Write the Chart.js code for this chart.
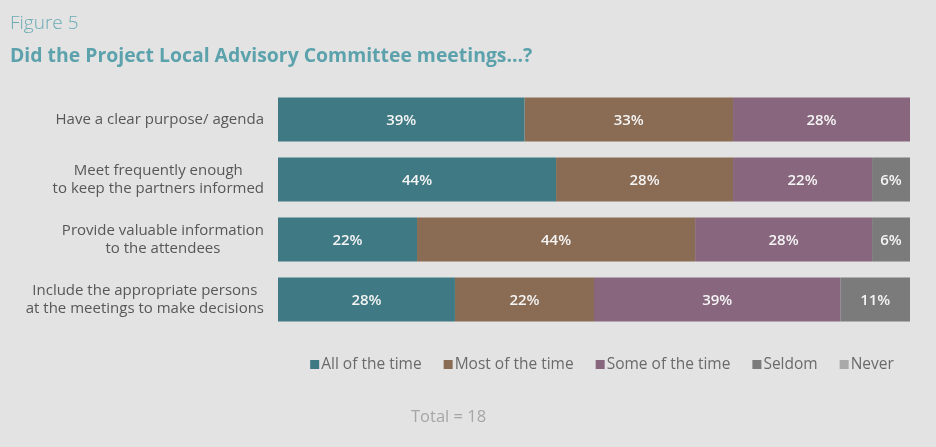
<!DOCTYPE html>
<html>
<head>
<meta charset="utf-8">
<script src="https://cdn.jsdelivr.net/npm/chart.js@4.4.1/dist/chart.umd.min.js"></script>
<style>
  html, body { margin: 0; padding: 0; background: #e4e3e3; }
  #wrap { width: 936px; height: 447px; position: relative; }
</style>
</head>
<body>
<div id="wrap"><canvas id="c" width="936" height="447"></canvas></div>
<script>
// Survey questions (multi-line category labels)
const questions = [
  ["Have a clear purpose/ agenda"],
  ["Meet frequently enough", "to keep the partners informed"],
  ["Provide valuable information", "to the attendees"],
  ["Include the appropriate persons", "at the meetings to make decisions"]
];

// Response categories
const responses = ["All of the time", "Most of the time", "Some of the time", "Seldom", "Never"];

// Share of respondents (%) for each response, per question
const allOfTheTime  = [39, 44, 22, 28];
const mostOfTheTime = [33, 28, 44, 22];
const someOfTheTime = [28, 22, 28, 39];
const seldom        = [0, 6, 6, 11];
const never         = [0, 0, 0, 0];

const titleText = "Figure 5";
const subtitleText = "Did the Project Local Advisory Committee meetings\u2026?";
const totalText = "Total = 18";

const colors = ["#3f7a84", "#8a6b53", "#88667e", "#7b7b7b", "#a9a9a9"];
const seriesValues = [allOfTheTime, mostOfTheTime, someOfTheTime, seldom, never];

const FONT = "'Open Sans', 'Noto Sans', sans-serif";

// Titles, category labels, in-bar percentage labels, legend and footnote
const decorations = {
  id: "decorations",
  afterDatasetsDraw(chart) {
    const ctx = chart.ctx;
    ctx.save();
    // in-bar value labels
    ctx.fillStyle = "#f4f4f4";
    ctx.font = "600 15px " + FONT;
    ctx.textAlign = "center";
    ctx.textBaseline = "middle";
    chart.data.datasets.forEach((ds, di) => {
      const meta = chart.getDatasetMeta(di);
      meta.data.forEach((bar, i) => {
        const v = ds.data[i];
        if (!v) return;
        const x = (bar.x + bar.base) / 2;
        ctx.fillText(v + "%", x, bar.y + 1);
      });
    });

    // category labels: each block right-aligned to the axis, its lines centred
    const yScale = chart.scales.y;
    const right = chart.chartArea.left - 14;
    const lh = 18;
    ctx.font = "15px " + FONT;
    ctx.fillStyle = "#575757";
    ctx.textAlign = "center";
    chart.data.labels.forEach((lines, i) => {
      const cy = yScale.getPixelForTick(i);
      const w = Math.max(...lines.map(l => ctx.measureText(l).width));
      const cx = right - w / 2;
      const y0 = cy - (lines.length - 1) * lh / 2;
      lines.forEach((l, k) => ctx.fillText(l, cx, y0 + k * lh));
    });
    ctx.restore();
  },
  afterDraw(chart) {
    const ctx = chart.ctx;
    ctx.save();
    ctx.textBaseline = "alphabetic";
    ctx.textAlign = "left";
    ctx.fillStyle = "#6aabb4";
    ctx.font = "300 19px " + FONT;
    ctx.fillText(titleText, 10, 29);
    ctx.fillStyle = "#5ba2ac";
    ctx.font = "bold 19.4px " + FONT;
    ctx.fillText(subtitleText, 10, 62);

    // legend
    ctx.font = "15.5px " + FONT;
    const gap = 22, box = 9, boxGap = 2;
    const widths = responses.map(r => ctx.measureText(r).width);
    const total = widths.reduce((a, w) => a + w + box + boxGap, 0) + gap * (responses.length - 1);
    let x = 602 - total / 2;
    const ly = 369;
    responses.forEach((r, i) => {
      ctx.fillStyle = colors[i];
      ctx.fillRect(x, ly - box, box, box);
      x += box + boxGap;
      ctx.fillStyle = "#6a6a6a";
      ctx.fillText(r, x, ly);
      x += widths[i] + gap;
    });

    // footnote
    ctx.fillStyle = "#a6a6a6";
    ctx.font = "16.5px " + FONT;
    ctx.fillText(totalText, 411, 422);
    ctx.restore();
  }
};

new Chart(document.getElementById("c"), {
  type: "bar",
  data: {
    labels: questions,
    datasets: responses.map((r, i) => ({
      label: r,
      data: seriesValues[i],
      backgroundColor: colors[i],
      borderWidth: 0,
      categoryPercentage: 1,
      barPercentage: 0.73
    }))
  },
  options: {
    indexAxis: "y",
    responsive: false,
    animation: false,
    layout: { padding: { left: 0, right: 26, top: 89.5, bottom: 117.5 } },
    scales: {
      x: { stacked: true, min: 0, max: 100, display: false },
      y: {
        stacked: true,
        grid: { display: false },
        border: { display: false },
        ticks: { display: false },
        afterFit(scale) { scale.width = 278; }
      }
    },
    plugins: {
      legend: { display: false },
      tooltip: { enabled: false }
    }
  },
  plugins: [decorations]
});
</script>
</body>
</html>
